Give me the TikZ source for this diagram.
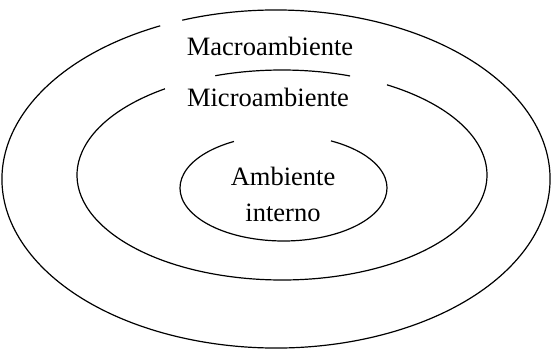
\documentclass[tikz,border=0pt]{standalone}
\usepackage{fontspec}
\setmainfont{Liberation Serif}
\begin{document}
\begin{tikzpicture}[x=1pt,y=1pt,line width=1.2pt,
    ringtext/.style={font=\fontsize{26.5}{36}\selectfont,inner sep=0pt,align=center}]
  \useasboundingbox (0,0) rectangle (552,351);
  \draw
    (270,305) node[ringtext] (macro){Macroambiente}
    (268,254) node[ringtext] (micro){Microambiente}
    (283,157) node[ringtext] (interno){Ambiente\\interno};
  % rings, open where the labels sit
  \draw (276,172) ++(115:274 and 169)
    arc[start angle=115,end angle=470,x radius=274,y radius=169];
  \draw (282,176) ++(124.8:205 and 105)
    arc[start angle=124.8,end angle=419.2,x radius=205,y radius=105];
  \draw (282,176) ++(70.6:205 and 105)
    arc[start angle=70.6,end angle=109,x radius=205,y radius=105];
  \draw (283.5,163) ++(118.6:103.5 and 53)
    arc[start angle=118.6,end angle=422.7,x radius=103.5,y radius=53];
\end{tikzpicture}
\end{document}
